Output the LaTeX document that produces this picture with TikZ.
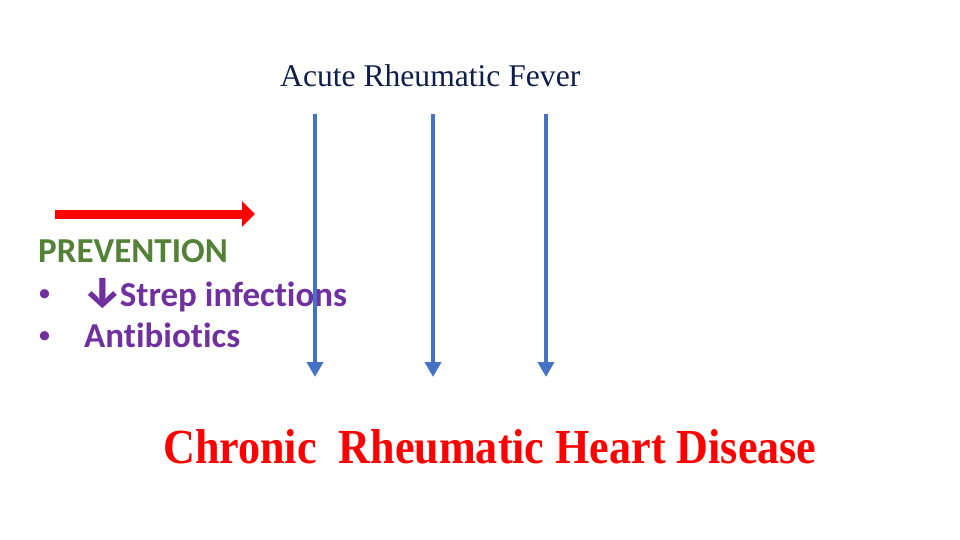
\documentclass[tikz,border=0pt]{standalone}
\usepackage{fontspec}
\usepackage{graphicx}
\setmainfont{Liberation Serif}
\newfontfamily\bodyfont[Ligatures=NoCommon]{Carlito}
\newfontfamily\symfont{Fira Sans}
\usetikzlibrary{arrows.meta,positioning}
\definecolor{rhdNavy}{HTML}{0F1E4A}
\definecolor{rhdBlue}{HTML}{4472C4}
\definecolor{rhdRed}{HTML}{FF0000}
\definecolor{rhdGreen}{HTML}{538135}
\definecolor{rhdPurple}{HTML}{7030A0}

\begin{document}
\begin{tikzpicture}[
  x=1pt, y=-1pt,
  every node/.style={inner sep=0pt, anchor=base west},
  title/.style={font=\fontsize{31.6}{36}\selectfont, text=rhdNavy},
  heading/.style={font=\bodyfont\bfseries\fontsize{35}{40}\selectfont, text=rhdGreen},
  item/.style={font=\bodyfont\bfseries\fontsize{35}{40}\selectfont, text=rhdPurple},
  dot/.style={font=\bodyfont\fontsize{26}{30}\selectfont, text=rhdPurple},
  result/.style={font=\bfseries\fontsize{49}{56}\selectfont, text=rhdRed},
  course/.style={-{Triangle[width=16pt,length=15pt]}, line width=4pt, rhdBlue},
  block/.style={-{Triangle[width=25pt,length=13pt]}, line width=9pt, rhdRed},
]
  \useasboundingbox (0,0) rectangle (960,540);

  \node[title] (arf) at (280,87) {Acute Rheumatic Fever};
  \node[result] (crhd) at (163,463) {\scalebox{0.9}[1]{Chronic\ \ Rheumatic Heart Disease}};

  \node[heading] (prev) at (38,262) {PREVENTION};
  \node[dot] (dot1) at (38,301) {•};
  \node[item] (strep) at (83,306) {{\symfont\fontsize{43}{43}\selectfont\char"2193}\kern-2pt Strep infections};
  \node[dot] (dot2) at (38,343) {•};
  \node[item] (abx) at (84,347) {Antibiotics};

  % three courses of rheumatic fever
  \foreach \i/\x in {1/315, 2/433, 3/546} {
    \coordinate (top\i) at (\x,114);
    \coordinate (end\i) at (\x,377);
    \draw[course] (top\i) -- (end\i);
  }

  % prevention blocks the way
  \coordinate (bstart) at (55,214);
  \coordinate (bend) at (255,214);
  \draw[block] (bstart) -- (bend);
\end{tikzpicture}
\end{document}
